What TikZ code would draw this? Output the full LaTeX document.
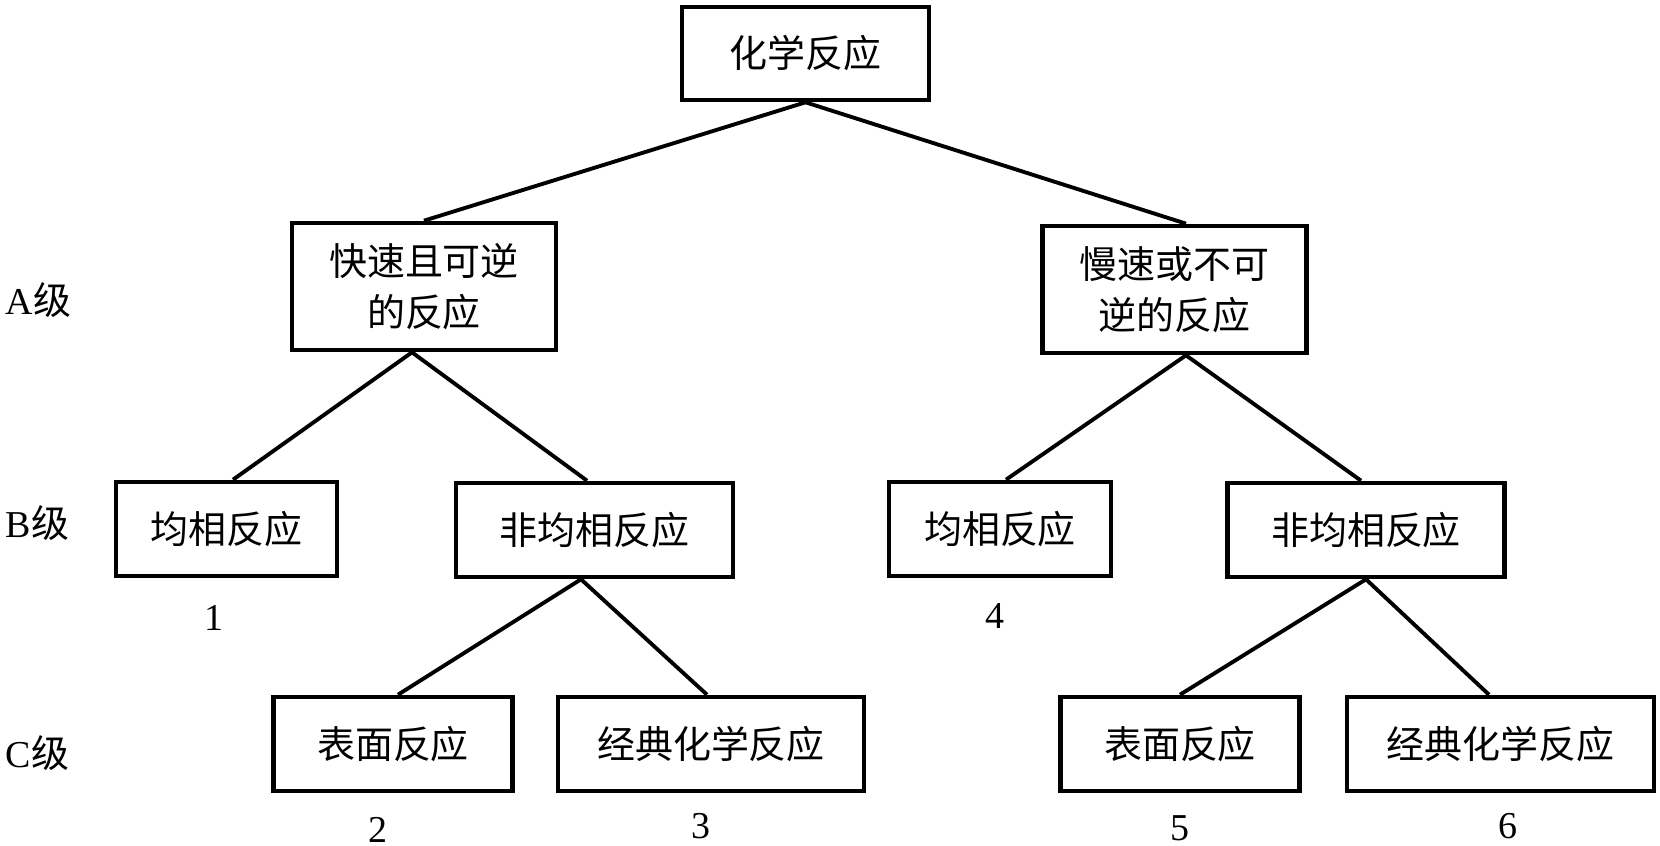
\documentclass[tikz,border=0pt]{standalone}
\usepackage{fontspec}
\setmainfont{Liberation Serif}
\newfontfamily\cjk{Noto Sans CJK SC}

\tikzset{
  box/.style={draw, line width=1.3pt, inner sep=0pt, align=center,
    font=\cjk\fontsize{10.8}{14.5}\selectfont},
  abox/.style={box, minimum width=2.64cm, minimum height=1.27cm},
  bbox/.style={box, minimum height=0.94cm},
  lvl/.style={anchor=west, inner sep=0pt, font=\fontsize{10.8}{13}\selectfont},
  num/.style={inner sep=0pt, font=\fontsize{10.8}{13}\selectfont},
  link/.style={line width=1.1pt}
}

\begin{document}
\begin{tikzpicture}[x=0.01cm, y=-0.01cm]
	%%%%% START %%%%%
	\useasboundingbox (0,0) rectangle (1660,846);

	\node[box, minimum width=2.47cm, minimum height=0.93cm] (top) at (805.5,53.5) {化学反应};

	\node[abox] (fastrev) at (424,286.5) {快速且可逆\\的反应};
	\node[abox] (slowirr) at (1174.5,289.5) {慢速或不可\\逆的反应};

	\node[bbox, minimum width=2.21cm] (homoL) at (226.5,529) {均相反应};
	\node[bbox, minimum width=2.77cm] (hetL) at (594.5,530) {非均相反应};
	\node[bbox, minimum width=2.22cm] (homoR) at (1000,529) {均相反应};
	\node[bbox, minimum width=2.77cm] (hetR) at (1366,530) {非均相反应};

	\node[bbox, minimum width=2.39cm] (surfL) at (393,744) {表面反应};
	\node[bbox, minimum width=3.06cm] (classL) at (711,744) {经典化学反应};
	\node[bbox, minimum width=2.39cm] (surfR) at (1180,744) {表面反应};
	\node[bbox, minimum width=3.07cm] (classR) at (1500.5,744) {经典化学反应};

	% level labels
	\node[lvl] (levA) at (5,300) {A{\cjk 级}};
	\node[lvl] (levB) at (5,523) {B{\cjk 级}};
	\node[lvl] (levC) at (5,753) {C{\cjk 级}};

	% numbers
	\node[num] (n1) at (214,618) {1};
	\node[num] (n2) at (378,830) {2};
	\node[num] (n3) at (701,826) {3};
	\node[num] (n4) at (995,616) {4};
	\node[num] (n5) at (1180,828) {5};
	\node[num] (n6) at (1508,826) {6};

	% connectors
	\draw[link] (top.south) -- (fastrev.north);
	\draw[link] (top.south) -- ([xshift=0.115cm]slowirr.north);

	\draw[link] ([xshift=-0.12cm]fastrev.south) -- ([xshift=0.065cm]homoL.north);
	\draw[link] ([xshift=-0.12cm]fastrev.south) -- ([xshift=-0.075cm]hetL.north);
	\draw[link] ([xshift=0.115cm]slowirr.south) -- ([xshift=0.06cm]homoR.north);
	\draw[link] ([xshift=0.115cm]slowirr.south) -- ([xshift=-0.05cm]hetR.north);

	\draw[link] ([xshift=-0.135cm]hetL.south) -- ([xshift=0.05cm]surfL.north);
	\draw[link] ([xshift=-0.135cm]hetL.south) -- ([xshift=-0.04cm]classL.north);
	\draw[link] (hetR.south) -- (surfR.north);
	\draw[link] (hetR.south) -- ([xshift=-0.115cm]classR.north);

	%%%%% END %%%%%
\end{tikzpicture}
\end{document}
